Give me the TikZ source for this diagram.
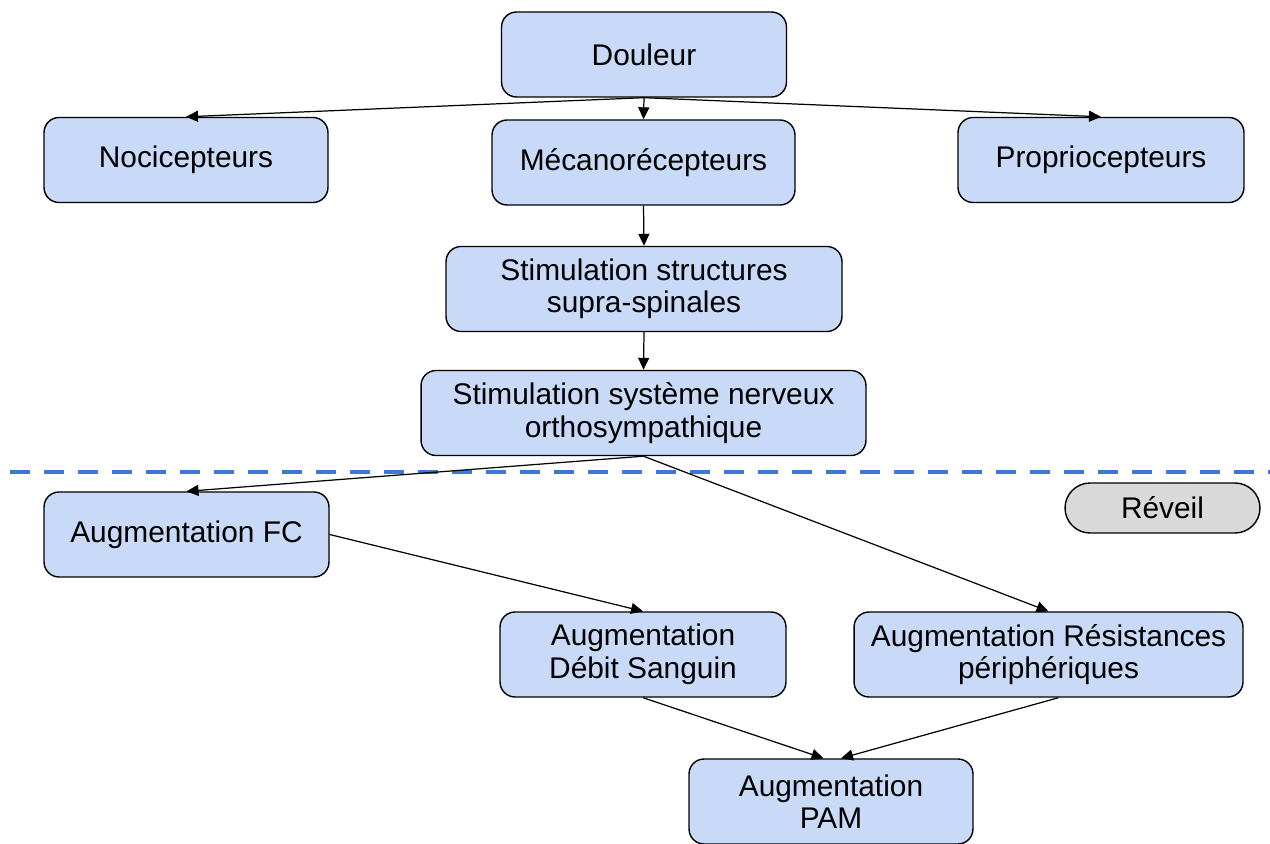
\documentclass[tikz,border=0pt]{standalone}
\usepackage{fontspec}
\setmainfont{Liberation Sans}
\usetikzlibrary{arrows.meta}
\definecolor{boxblue}{HTML}{C9DAF8}
\definecolor{boxgrey}{HTML}{D9D9D9}
\definecolor{lineblue}{HTML}{3C78D8}
\tikzset{
  etape/.style={draw=black,line width=0.8pt,fill=boxblue,rounded corners=0.3cm,
    align=center,inner sep=2pt,minimum height=1.7cm,
    font=\fontsize{17}{18.5}\selectfont},
  fleche/.style={line width=0.7pt,-{Triangle[length=2.4mm,width=2.2mm]}},
  separation/.style={draw=lineblue,line width=2.3pt,dash pattern=on 0.4cm off 0.28cm}
}
\begin{document}
\begin{tikzpicture}[x=0.02cm,y=-0.02cm]
\useasboundingbox (0,0) rectangle (1270,844);
% noeuds
\node[etape,minimum width=5.7cm] (douleur) at (644,54.5) {Douleur};
\node[etape,minimum width=5.68cm] (noci) at (186,160) {Nocicepteurs};
\node[etape,minimum width=6.06cm] (meca) at (643.5,162.5) {Mécanorécepteurs};
\node[etape,minimum width=5.72cm] (proprio) at (1101,160) {Propriocepteurs};
\node[etape,minimum width=7.92cm] (supra) at (644,289) {Stimulation structures\\supra-spinales};
\node[etape,minimum width=8.9cm] (ortho) at (643.5,413) {Stimulation système nerveux\\orthosympathique};
\node[etape,minimum width=5.7cm] (fc) at (186.5,534.5) {Augmentation FC};
\node[etape,fill=boxgrey,minimum width=3.9cm,minimum height=1cm,rounded corners=0.5cm] (reveil) at (1162.5,508) {Réveil};
\node[etape,minimum width=5.72cm] (debit) at (643,654.5) {Augmentation\\Débit Sanguin};
\node[etape,minimum width=7.78cm] (resist) at (1048.5,654.5) {Augmentation Résistances\\périphériques};
\node[etape,minimum width=5.68cm] (pam) at (831,801.5) {Augmentation\\PAM};
% ligne de separation
\coordinate (sepA) at (10,472);
\coordinate (sepB) at (1270,472);
\draw[separation] (sepA) -- (sepB);
% fleches
\draw[fleche] (douleur.south) -- (noci.north);
\draw[fleche] (douleur.south) -- (meca.north);
\draw[fleche] (douleur.south) -- (proprio.north);
\draw[fleche] (meca.south) -- (supra.north);
\draw[fleche] (supra.south) -- (ortho.north);
\draw[fleche] (ortho.south) -- (fc.north);
\draw[fleche] (ortho.south) -- (resist.north);
\draw[fleche] (fc.east) -- (debit.north);
\draw[fleche] (debit.south) -- ([xshift=-0.15cm]pam.north);
\draw[fleche] ([xshift=0.2cm]resist.south) -- ([xshift=0.2cm]pam.north);
\end{tikzpicture}
\end{document}
